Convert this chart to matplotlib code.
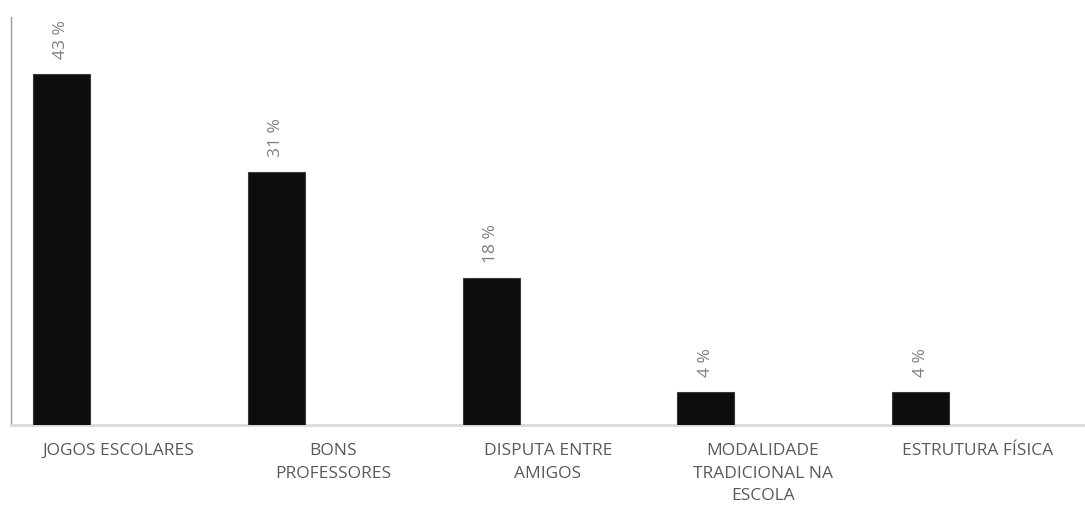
import matplotlib
matplotlib.use("Agg")
import matplotlib.pyplot as plt
import numpy as np

# dados do gráfico
categorias = ["JOGOS ESCOLARES", "BONS\nPROFESSORES", "DISPUTA ENTRE\nAMIGOS",
              "MODALIDADE\nTRADICIONAL NA\nESCOLA", "ESTRUTURA FÍSICA"]
valores = [43, 31, 18, 4, 4]

plt.rcParams['font.family'] = ['Open Sans', 'DejaVu Sans']

fig = plt.figure(figsize=(10.85, 5.13), dpi=100)
ax = fig.add_axes([11 / 1085, 88 / 513, 1074 / 1085, 408 / 513])

x = np.arange(len(categorias))
largura = 0.265
barras = ax.bar(x - largura, valores, width=largura, color="#0d0d0d",
                edgecolor="#3a3a3a", linewidth=0.8, zorder=3)

for b, v in zip(barras, valores):
    ax.annotate(f"{v} %", (b.get_x() + b.get_width() / 2, b.get_height()),
                xytext=(0, 11), textcoords="offset points",
                rotation=90, ha="center", va="bottom",
                fontsize=12.5, color="#7f7f7f")

ax.set_xlim(-0.5, len(categorias) - 0.5)
ax.set_ylim(0, 50)
ax.set_xticks(x)
ax.set_xticklabels(categorias, fontsize=12.5, color="#595959", linespacing=1.55)
ax.tick_params(axis="x", length=0, pad=13)
ax.set_yticks([])

for s in ["top", "right"]:
    ax.spines[s].set_visible(False)
ax.spines["left"].set_color("#9a9a9a")
ax.spines["left"].set_linewidth(1.0)
ax.spines["bottom"].set_color("#d9d9d9")
ax.spines["bottom"].set_linewidth(2.0)

fig.savefig("out.png", dpi=100)
